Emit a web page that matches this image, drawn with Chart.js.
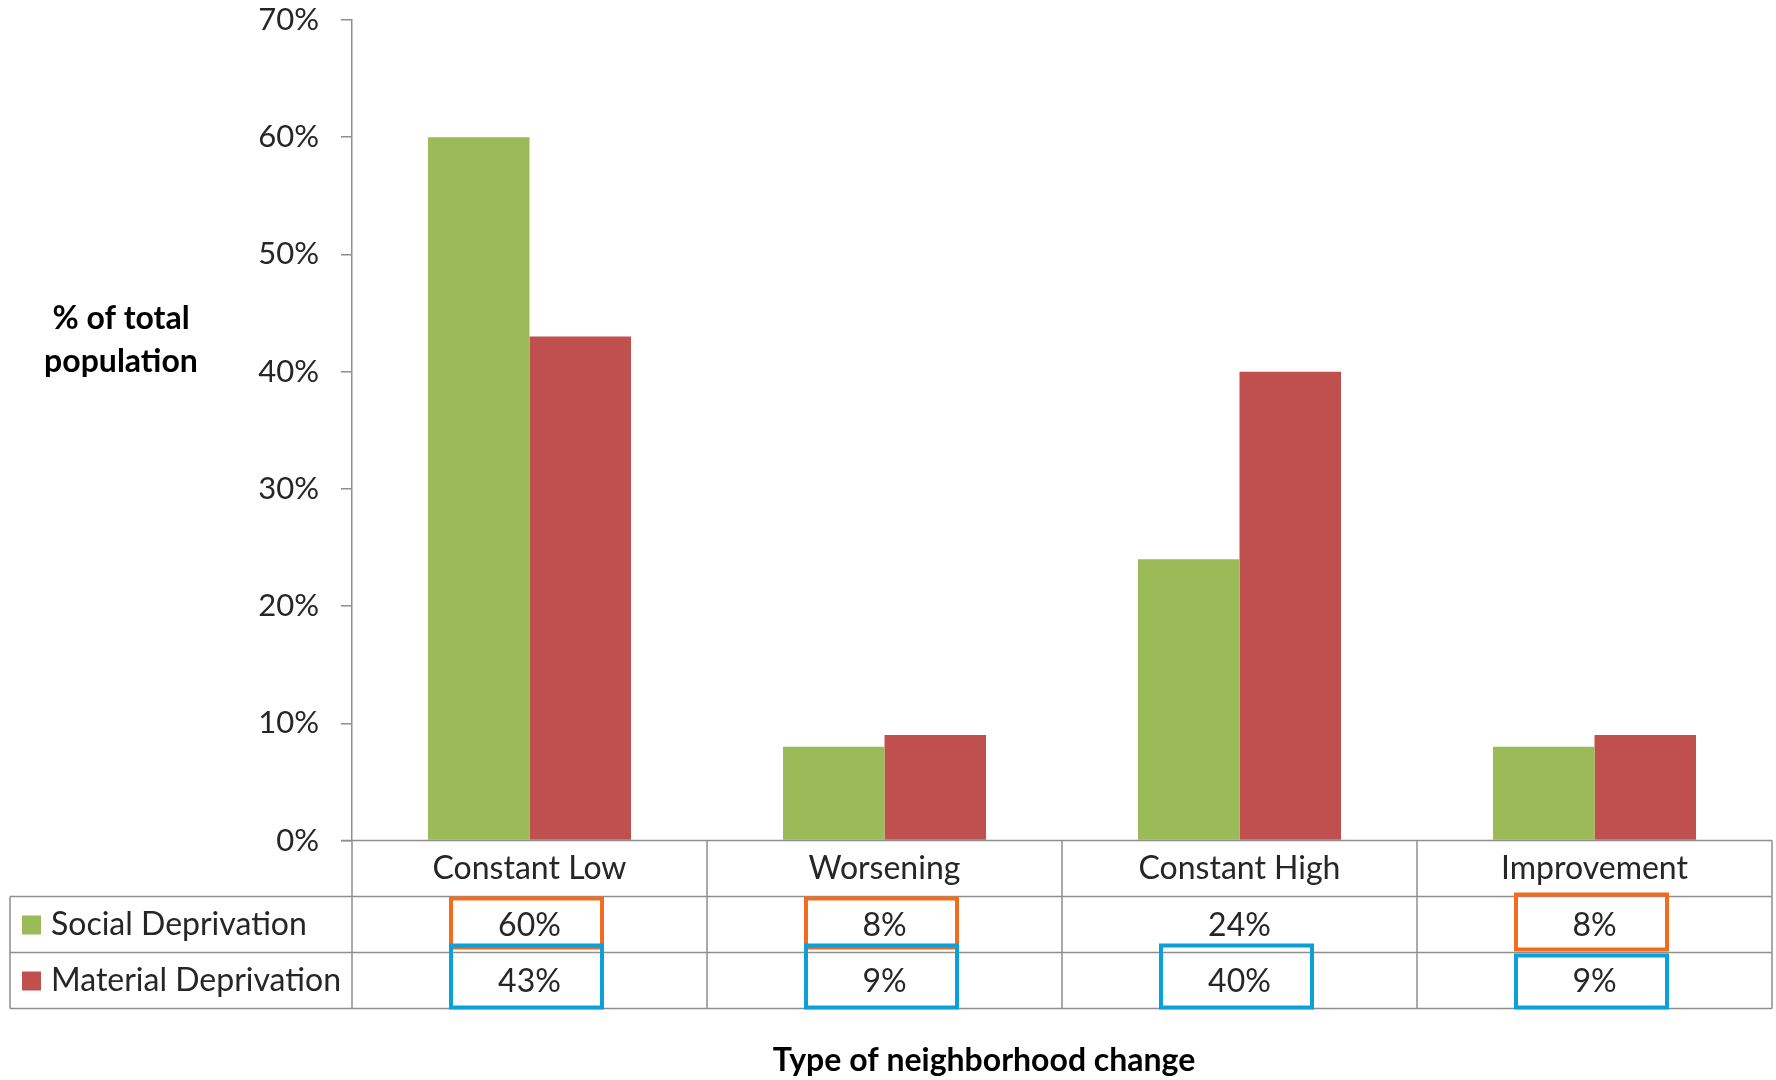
<!DOCTYPE html>
<html>
<head>
<meta charset="utf-8">
<script src="https://cdn.jsdelivr.net/npm/chart.js@4/dist/chart.umd.min.js"></script>
<style>
  html, body { margin: 0; padding: 0; background: #ffffff; }
  #wrap { width: 1776px; height: 1080px; }
</style>
</head>
<body>
<div id="wrap"><canvas id="c" width="1776" height="1080"></canvas></div>
<script>
const categories = ['Constant Low', 'Worsening', 'Constant High', 'Improvement'];
const socialDeprivation = [60, 8, 24, 8];
const materialDeprivation = [43, 9, 40, 9];
const seriesNames = ['Social Deprivation', 'Material Deprivation'];
const yTickValues = [0, 10, 20, 30, 40, 50, 60, 70];
const yTitleLines = ['% of total', 'population'];
const xTitle = 'Type of neighborhood change';
// highlighted table cells: [category index, row index (0 = social, 1 = material), colour key]
const highlights = [
  [0, 0, 'orange'], [0, 1, 'blue'],
  [1, 0, 'orange'], [1, 1, 'blue'],
  [2, 1, 'blue'],
  [3, 0, 'orange'], [3, 1, 'blue']
];

const GREEN = '#9BBB59';
const RED = '#C0504D';
const LINE = '#8f8f8f';
const TEXT = '#262626';
const FONT = 'Lato, "Open Sans", sans-serif';
const HL = { orange: '#F26C1F', blue: '#0AA0D8' };
const seriesColors = [GREEN, RED];
const seriesData = [socialDeprivation, materialDeprivation];

const tablePlugin = {
  id: 'dataTable',
  afterDraw(chart) {
    const ctx = chart.ctx;
    const x = chart.scales.x;
    const ca = chart.chartArea;
    const n = categories.length;
    const colW = (ca.right - ca.left) / n;
    const rowH = 56;
    const r0 = ca.bottom;
    const r1 = r0 + rowH;
    const r2 = r1 + rowH;
    const r3 = r2 + rowH;
    const tableLeft = 10;

    ctx.save();
    ctx.strokeStyle = LINE;
    ctx.lineWidth = 1.5;
    ctx.beginPath();
    ctx.moveTo(ca.left - 11, r0); ctx.lineTo(ca.right, r0);
    [r1, r2, r3].forEach(yy => { ctx.moveTo(tableLeft, yy); ctx.lineTo(ca.right, yy); });
    for (let i = 0; i <= n; i++) {
      const xx = ca.left + i * colW;
      ctx.moveTo(xx, r0); ctx.lineTo(xx, r3);
    }
    ctx.moveTo(tableLeft, r1); ctx.lineTo(tableLeft, r3);
    ctx.stroke();

    ctx.fillStyle = TEXT;
    ctx.font = '32px ' + FONT;
    ctx.textAlign = 'center';
    ctx.textBaseline = 'middle';
    categories.forEach((c, i) => {
      ctx.fillText(c, x.getPixelForValue(i), (r0 + r1) / 2);
    });
    seriesData.forEach((arr, s) => {
      const yy = s === 0 ? (r1 + r2) / 2 : (r2 + r3) / 2;
      arr.forEach((v, i) => {
        ctx.fillText(v + '%', x.getPixelForValue(i), yy + 1);
      });
    });
    ctx.textAlign = 'left';
    seriesNames.forEach((name, s) => {
      const yy = s === 0 ? (r1 + r2) / 2 : (r2 + r3) / 2;
      ctx.fillStyle = seriesColors[s];
      ctx.fillRect(22, yy - 9, 19, 19);
      ctx.fillStyle = TEXT;
      ctx.fillText(name, 51, yy);
    });

    ctx.lineWidth = 4;
    highlights.forEach(([ci, ri, key]) => {
      const cx = x.getPixelForValue(ci);
      const w = 151;
      const last = ci === n - 1;
      let top, bot;
      if (ri === 0) { top = r1 + (last ? -2 : 2); bot = r2 - (last ? 3 : 5); }
      else { top = r2 + (last ? 3 : -7); bot = r3 - 1; }
      ctx.strokeStyle = HL[key];
      ctx.strokeRect(cx - w / 2 - 3, top, w, bot - top);
    });

    ctx.fillStyle = '#000000';
    ctx.font = 'bold 32px ' + FONT;
    ctx.textAlign = 'center';
    ctx.fillText(yTitleLines[0], 121, 319);
    ctx.fillText(yTitleLines[1], 121, 362);
    ctx.fillText(xTitle, 984, 1061);
    ctx.restore();
  }
};

new Chart(document.getElementById('c'), {
  type: 'bar',
  data: {
    labels: categories,
    datasets: [
      { label: seriesNames[0], data: socialDeprivation, backgroundColor: GREEN },
      { label: seriesNames[1], data: materialDeprivation, backgroundColor: RED }
    ]
  },
  options: {
    responsive: false,
    animation: false,
    devicePixelRatio: 1,
    layout: { padding: { left: 0, right: 4, top: 20, bottom: 0 } },
    plugins: { legend: { display: false }, tooltip: { enabled: false }, title: { display: false } },
    datasets: { bar: { categoryPercentage: 0.572, barPercentage: 1.0 } },
    scales: {
      x: {
        type: 'category',
        grid: { display: false },
        border: { display: false },
        ticks: { display: false },
        afterFit(scale) { scale.height = 239.5; }
      },
      y: {
        min: 0, max: 70,
        afterBuildTicks(scale) { scale.ticks = yTickValues.map(v => ({ value: v })); },
        ticks: {
          callback: v => v + '%',
          color: TEXT,
          font: { family: FONT, size: 31 },
          padding: 22
        },
        grid: { drawOnChartArea: false, drawTicks: true, tickLength: 11, color: LINE, lineWidth: 1.5 },
        border: { display: true, color: LINE, width: 1.5 },
        afterFit(scale) { scale.width = 352; scale.paddingTop = 0; scale.paddingBottom = 0; }
      }
    }
  },
  plugins: [tablePlugin]
});
</script>
</body>
</html>
